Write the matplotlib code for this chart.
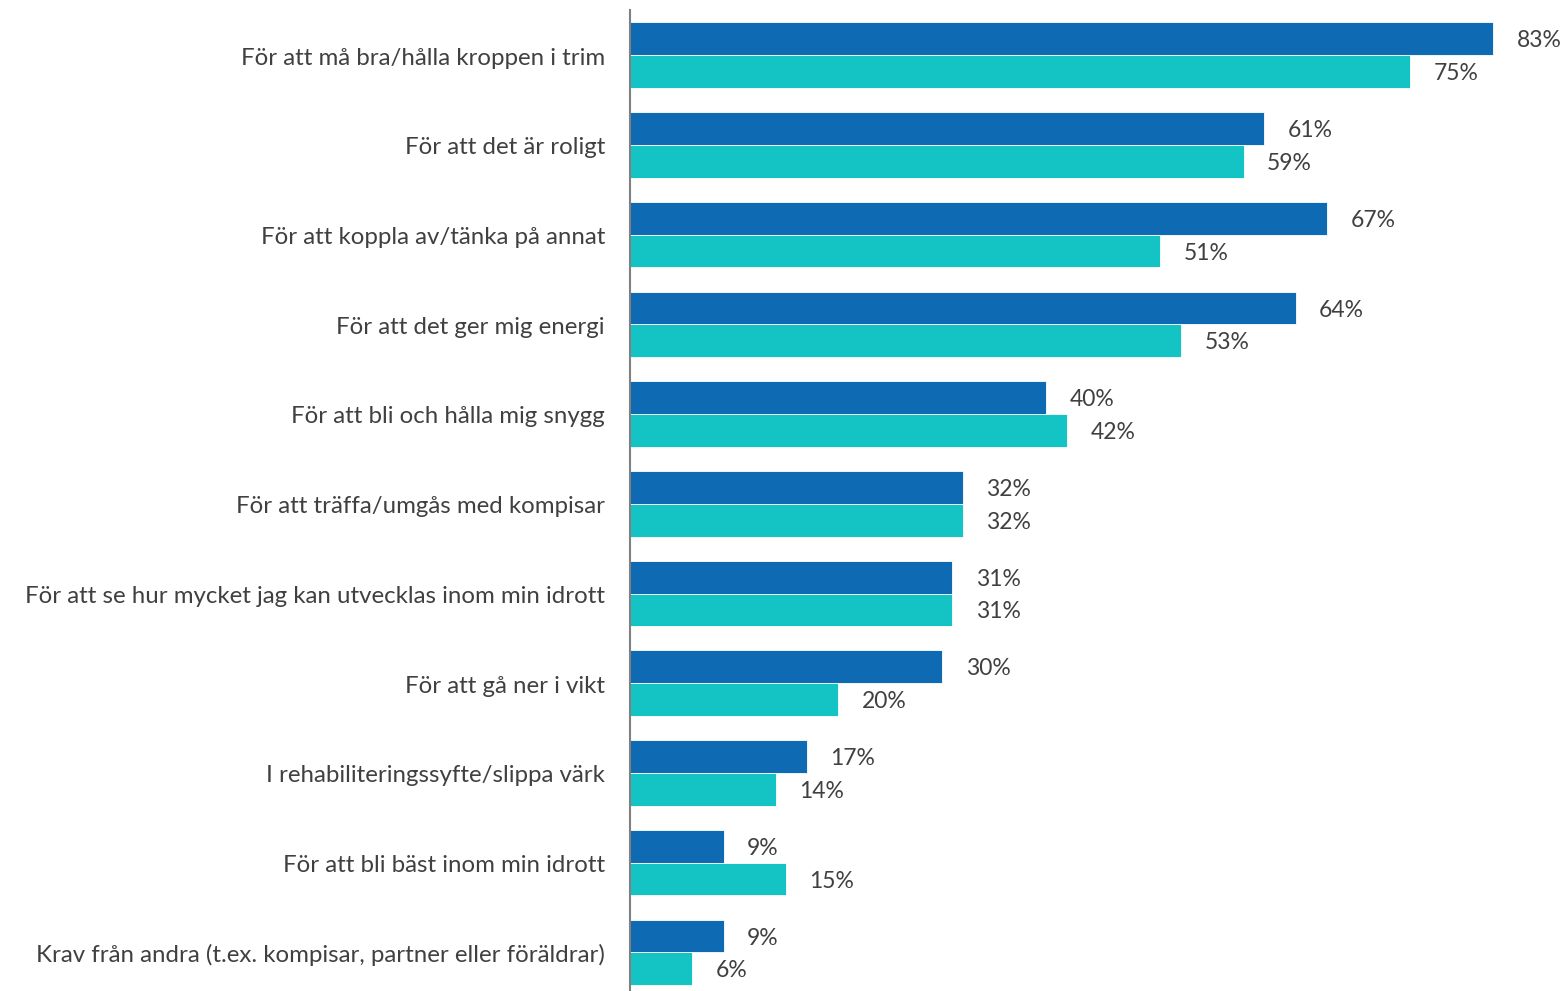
import matplotlib.pyplot as plt
import numpy as np

categories = [
    'För att må bra/hålla kroppen i trim',
    'För att det är roligt',
    'För att koppla av/tänka på annat',
    'För att det ger mig energi',
    'För att bli och hålla mig snygg',
    'För att träffa/umgås med kompisar',
    'För att se hur mycket jag kan utvecklas inom min idrott',
    'För att gå ner i vikt',
    'I rehabiliteringssyfte/slippa värk',
    'För att bli bäst inom min idrott',
    'Krav från andra (t.ex. kompisar, partner eller föräldrar)',
]
series_a = [83, 61, 67, 64, 40, 32, 31, 30, 17, 9, 9]
series_b = [75, 59, 51, 53, 42, 32, 31, 20, 14, 15, 6]

plt.rcParams['font.family'] = ['Lato', 'DejaVu Sans']
text_color = '#404040'

fig = plt.figure(figsize=(15.68, 9.91), dpi=100)
ax = fig.add_axes([630 / 1568, 0, 1 - 630 / 1568, 1 - 10 / 991])

y = np.arange(len(categories))
h = 0.365
bars_a = ax.barh(y - h / 2 - 0.01, series_a, height=h, color='#0F6AB4', edgecolor='white', linewidth=0.6)
bars_b = ax.barh(y + h / 2 - 0.01, series_b, height=h, color='#14C3C3', edgecolor='white', linewidth=0.6)

for bars in (bars_a, bars_b):
    for b in bars:
        ax.annotate(f'{int(b.get_width())}%', (b.get_width(), b.get_y() + b.get_height() / 2),
                    xytext=(17, -1.5), textcoords='offset points', va='center', ha='left',
                    fontsize=16.5, color=text_color)

ax.set_xlim(0, 90.2)
ax.set_ylim(10.42, -0.513)
ax.set_yticks(y)
ax.set_yticklabels(categories, fontsize=17.3, color=text_color)
ax.tick_params(axis='y', length=0, pad=18)
ax.set_xticks([])
for s in ['top', 'right', 'bottom']:
    ax.spines[s].set_visible(False)
ax.spines['left'].set_color('#808080')
ax.spines['left'].set_linewidth(1.5)

fig.savefig('out.png', dpi=100)
